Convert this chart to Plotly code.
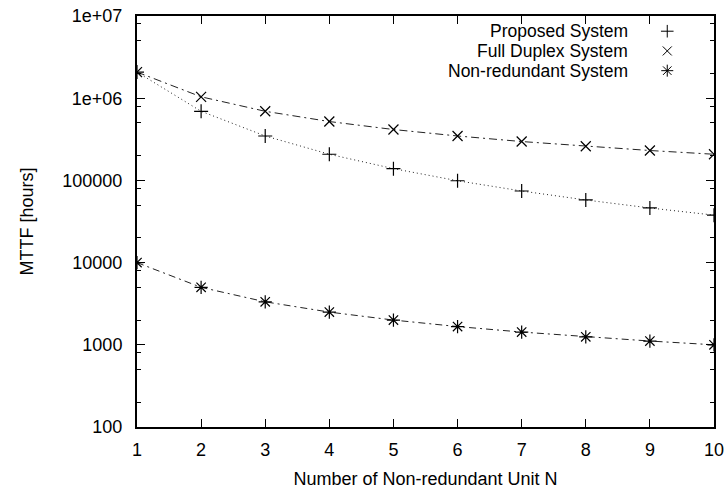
import plotly.graph_objects as go

N = [1, 2, 3, 4, 5, 6, 7, 8, 9, 10]
proposed = [2080000, 693000, 347000, 208000, 139000, 99000, 74300, 57800, 46200, 37800]
full_duplex = [2080000, 1040000, 693000, 520000, 416000, 347000, 297000, 260000, 231000, 208000]
non_redundant = [10000, 5000, 3333, 2500, 2000, 1667, 1429, 1250, 1111, 1000]
names = ["Proposed System", "Full Duplex System", "Non-redundant System"]
ytick_vals = [100, 1000, 10000, 100000, 1000000, 10000000]
ytick_text = ["100", "1000", "10000", "100000", "1e+06", "1e+07"]
minor_vals = [m * 10 ** e for e in range(2, 7) for m in (2, 5, 8)]

FONT = "Liberation Sans, Arial, Helvetica, sans-serif"
FS = 18
FS_LEG = 17.5
C = "#000000"

series = [
    (proposed, "cross-thin", 10, "1px,3px"),
    (full_duplex, "x-thin", 10, "8px,4px,2px,4px"),
    (non_redundant, "asterisk", 11, "7px,4px,2px,4px"),
]

fig = go.Figure()
for (vals, sym, size, dash), name in zip(series, names):
    fig.add_trace(go.Scatter(
        x=N, y=vals, mode="lines+markers", name=name, showlegend=False,
        line=dict(color="#222222", width=1, dash=dash),
        marker=dict(symbol=sym, size=size, color=C, line=dict(color=C, width=1.2)),
    ))

# Legend (gnuplot style: text right-aligned, symbol to the right)
leg_y = [0.963, 0.915, 0.867]
for (vals, sym, size, dash), name, yy in zip(series, names, leg_y):
    fig.add_trace(go.Scatter(
        x=[0.919], y=[yy], xaxis="x2", yaxis="y2", mode="markers", showlegend=False,
        marker=dict(symbol=sym, size=size - 1, color=C, line=dict(color=C, width=1)),
        hoverinfo="skip",
    ))
    fig.add_annotation(x=0.851, y=yy, xref="paper", yref="paper", text=name,
                       showarrow=False, xanchor="right", yanchor="middle",
                       borderpad=0, borderwidth=0,
                       font=dict(family=FONT, size=FS_LEG, color=C))

fig.update_layout(
    width=728, height=490,
    margin=dict(l=137, r=14, t=16, b=63, autoexpand=False),
    paper_bgcolor="white", plot_bgcolor="white",
    font=dict(family=FONT, size=FS, color=C),
    showlegend=False,
    xaxis=dict(
        range=[1, 10], tickvals=N, ticks="inside", ticklen=8, tickwidth=1,
        tickcolor=C, showline=True, linecolor=C, linewidth=2, mirror="ticks",
        showgrid=False, zeroline=False, ticklabelstandoff=5, automargin=False,
        title=dict(text="Number of Non-redundant Unit N", standoff=14,
                   font=dict(size=FS)),
    ),
    yaxis=dict(
        type="log", range=[2, 7], tickvals=ytick_vals, ticktext=ytick_text,
        ticks="inside", ticklen=8, tickwidth=1, tickcolor=C,
        showline=True, linecolor=C, linewidth=2, mirror="ticks",
        showgrid=False, zeroline=False, ticklabelstandoff=9, automargin=False,
        minor=dict(tickvals=minor_vals, ticks="inside", ticklen=4,
                   tickwidth=1, tickcolor=C, showgrid=False),
        title=dict(text="MTTF [hours]", standoff=24, font=dict(size=FS)),
    ),
    xaxis2=dict(overlaying="x", range=[0, 1], visible=False, fixedrange=True),
    yaxis2=dict(overlaying="y", range=[0, 1], visible=False, fixedrange=True),
)

fig.write_html("out.html")
